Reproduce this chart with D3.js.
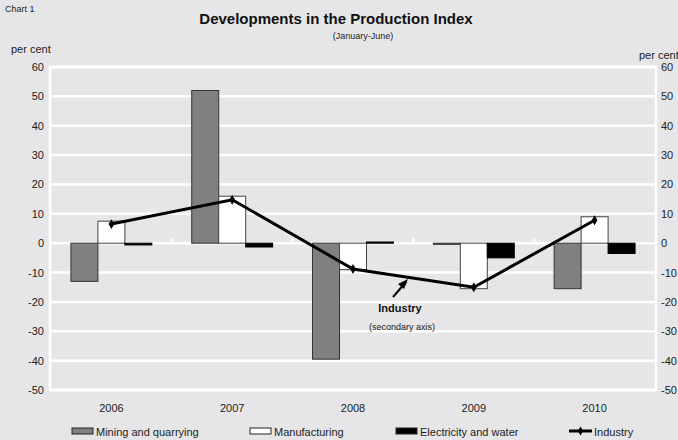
<!DOCTYPE html>
<html><head><meta charset="utf-8">
<script src="https://cdn.jsdelivr.net/npm/d3@7"></script>
<style>
body{margin:0;background:#e6e6e8;}
svg{display:block;font-family:"Liberation Sans",Arial,sans-serif;}
</style></head><body>
<svg id="c" width="678" height="440"></svg>
<script>
const years = ["2006","2007","2008","2009","2010"];
const mining = [-13, 52, -39.5, -0.4, -15.5];
const manufacturing = [7.5, 16, -9, -15.5, 9];
const electricity = [-0.6, -1.3, 0.4, -5, -3.5];
const industry = [6.5, 14.8, -8.8, -15, 7.8];
const yTicks = [60,50,40,30,20,10,0,-10,-20,-30,-40,-50];
const seriesNames = ["Mining and quarrying","Manufacturing","Electricity and water","Industry"];

const svg = d3.select("#c");
const W=678,H=440;
const L=51,R=655,T=67,B=390;
svg.append("rect").attr("width",W).attr("height",H).attr("fill","#e6e6e8");

const x = d3.scaleBand().domain(years).range([L,R]).paddingInner(0).paddingOuter(0);
const y = d3.scaleLinear().domain([-50,60]).range([B,T]);
const y2 = d3.scaleLinear().domain([-50,60]).range([B,T]);
const groupW = x.bandwidth()*0.67;
const x1 = d3.scaleBand().domain(["m","f","e"]).range([0,groupW]);

// frame
svg.append("rect").attr("x",L-1).attr("y",T).attr("width",R-L+2).attr("height",B-T)
  .attr("fill","none").attr("stroke","#fff").attr("stroke-width",2.5);
// gridlines
svg.append("g").selectAll("line").data(yTicks).join("line")
  .attr("x1",L).attr("x2",R).attr("y1",d=>y(d)).attr("y2",d=>y(d))
  .attr("stroke","#fff").attr("stroke-width",2.5);
// category ticks
svg.append("g").selectAll("line").data(years.slice(1)).join("line")
  .attr("x1",d=>x(d)).attr("x2",d=>x(d)).attr("y1",y(0)-5).attr("y2",y(0))
  .attr("stroke","#fff").attr("stroke-width",2);

const bars = [
  {key:"m",vals:mining,fill:"#808080",stroke:"#333"},
  {key:"f",vals:manufacturing,fill:"#ffffff",stroke:"#444"},
  {key:"e",vals:electricity,fill:"#000000",stroke:"#000"}
];
bars.forEach(s=>{
  svg.append("g").selectAll("rect").data(years).join("rect")
    .attr("x",(d)=>x(d)+(x.bandwidth()-groupW)/2+x1(s.key))
    .attr("width",x1.bandwidth())
    .attr("y",(d,i)=>y(Math.max(0,s.vals[i])))
    .attr("height",(d,i)=>Math.abs(y(s.vals[i])-y(0)))
    .attr("fill",s.fill).attr("stroke",s.stroke).attr("stroke-width",1);
});

// industry line
const lx = d=>x(d)+x.bandwidth()/2;
svg.append("path").datum(years)
  .attr("d",d3.line().x(d=>lx(d)).y((d,i)=>y2(industry[i])))
  .attr("fill","none").attr("stroke","#000").attr("stroke-width",3);
svg.append("g").selectAll("path").data(years).join("path")
  .attr("transform",(d,i)=>`translate(${lx(d)},${y2(industry[i])})`)
  .attr("d",d3.symbol(d3.symbolDiamond,28)).attr("fill","#000");

// axes
const fmt = d=>String(d);
const axL = svg.append("g").attr("transform",`translate(${L-7},0)`)
  .call(d3.axisLeft(y).tickValues(yTicks).tickFormat(fmt).tickSize(0).tickPadding(0));
const axR = svg.append("g").attr("transform",`translate(${R+6},0)`)
  .call(d3.axisRight(y2).tickValues(yTicks).tickFormat(fmt).tickSize(0).tickPadding(0));
const axB = svg.append("g").attr("transform",`translate(0,${B+6})`)
  .call(d3.axisBottom(x).tickSize(0).tickPadding(8));
[axL,axR,axB].forEach(a=>{
  a.select(".domain").remove();
  a.selectAll("text").attr("font-size",11).attr("fill","#222").attr("font-family","Liberation Sans, Arial, sans-serif");
});

// titles
svg.append("text").attr("x",5).attr("y",12).attr("font-size",9).attr("fill","#222").text("Chart 1");
svg.append("text").attr("x",336).attr("y",24).attr("text-anchor","middle").attr("font-size",15).attr("font-weight","bold").attr("fill","#111").text("Developments in the Production Index");
svg.append("text").attr("x",363).attr("y",39).attr("text-anchor","middle").attr("font-size",9).attr("fill","#222").text("(January-June)");
svg.append("text").attr("x",11).attr("y",53).attr("font-size",11).attr("fill","#222").text("per cent");
svg.append("text").attr("x",639).attr("y",59).attr("font-size",11).attr("fill","#222").text("per cent");

// annotation
svg.append("line").attr("x1",393).attr("y1",297).attr("x2",406).attr("y2",282)
  .attr("stroke","#000").attr("stroke-width",2);
svg.append("path").attr("d","M408,279 L398,284 L404,289 Z").attr("fill","#000");
svg.append("text").attr("x",400).attr("y",312).attr("text-anchor","middle").attr("font-size",11).attr("font-weight","bold").attr("fill","#111").text("Industry");
svg.append("text").attr("x",402).attr("y",330).attr("text-anchor","middle").attr("font-size",9).attr("fill","#222").text("(secondary axis)");

// legend
const leg = svg.append("g");
const lgX=[72,250,396,569];
const lfills=["#808080","#ffffff","#000000"];
[0,1,2].forEach(i=>{
  leg.append("rect").attr("x",lgX[i]).attr("y",428).attr("width",21).attr("height",6)
    .attr("fill",lfills[i]).attr("stroke","#222").attr("stroke-width",1);
  leg.append("text").attr("x",lgX[i]+24).attr("y",436).attr("font-size",11).attr("fill","#222").text(seriesNames[i]);
});
leg.append("line").attr("x1",lgX[3]).attr("x2",lgX[3]+23).attr("y1",431).attr("y2",431).attr("stroke","#000").attr("stroke-width",3);
leg.append("path").attr("transform",`translate(${lgX[3]+11.5},431)`).attr("d",d3.symbol(d3.symbolDiamond,24)).attr("fill","#000");
leg.append("text").attr("x",lgX[3]+25).attr("y",436).attr("font-size",11).attr("fill","#222").text(seriesNames[3]);
</script></body></html>
